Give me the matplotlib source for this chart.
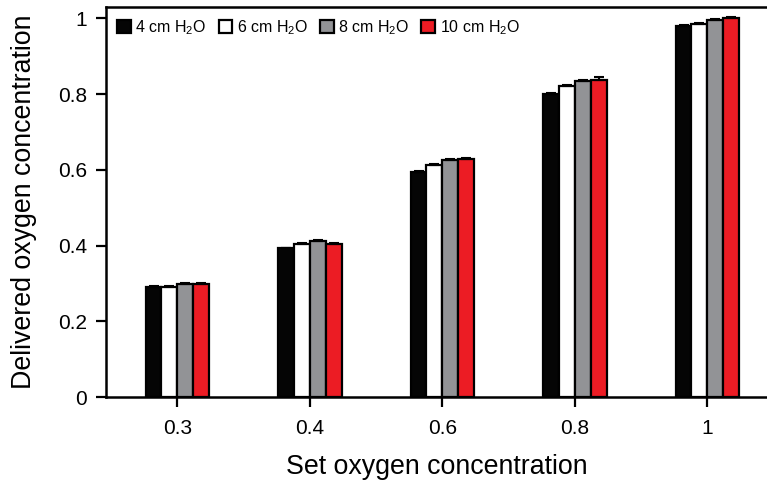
import numpy as np
import matplotlib
matplotlib.use("Agg")
import matplotlib.pyplot as plt

plt.rcParams['font.family'] = ['Liberation Sans', 'DejaVu Sans']
plt.rcParams['mathtext.fontset'] = 'custom'
plt.rcParams['mathtext.rm'] = 'Liberation Sans'

# datos
categorias = ['0.3', '0.4', '0.6', '0.8', '1']
series = ['4 cm H$_2$O', '6 cm H$_2$O', '8 cm H$_2$O', '10 cm H$_2$O']
colores = ['#050505', '#ffffff', '#929396', '#ec1c24']

valores = [
    [0.291, 0.393, 0.595, 0.800, 0.980],
    [0.290, 0.405, 0.613, 0.822, 0.985],
    [0.298, 0.412, 0.625, 0.835, 0.995],
    [0.298, 0.405, 0.630, 0.838, 1.000],
]
errores = [
    [0.002, 0.002, 0.002, 0.002, 0.002],
    [0.003, 0.002, 0.002, 0.002, 0.002],
    [0.003, 0.003, 0.003, 0.002, 0.003],
    [0.003, 0.002, 0.002, 0.008, 0.003],
]

fig = plt.figure(figsize=(7.67, 4.82), dpi=100)
ax = fig.add_axes([0.138, 0.176, 0.862, 0.8095])

x = np.arange(len(categorias))
ancho = 0.12
for i in range(len(series)):
    pos = x + (i - 1.5) * ancho
    ax.bar(pos, valores[i], ancho, color=colores[i], edgecolor='black',
           linewidth=1.6, label=series[i], zorder=2)
    ax.errorbar(pos, valores[i], yerr=[np.zeros(len(x)), errores[i]], fmt='none',
                ecolor='black', elinewidth=1.5, capsize=3.5, capthick=1.5, zorder=3)

ax.set_xlim(-0.54, 4.45)
ax.set_ylim(0, 1.03)
ax.set_xticks(x)
ax.set_xticklabels(categorias)
ax.set_yticks([0, 0.2, 0.4, 0.6, 0.8, 1])
ax.set_yticklabels(['0', '0.2', '0.4', '0.6', '0.8', '1'])
ax.tick_params(axis='both', labelsize=15, width=1.6, length=7.5, direction='out')
ax.tick_params(axis='y', pad=6)
ax.tick_params(axis='x', pad=8)
for lado in ['left', 'bottom', 'top']:
    ax.spines[lado].set_linewidth(1.8)
ax.spines['right'].set_visible(False)

ax.set_xlabel('Set oxygen concentration', fontsize=19.3, labelpad=12)
ax.set_ylabel('Delivered oxygen concentration', fontsize=19.3, labelpad=15)

ax.legend(loc='upper left', ncol=4, frameon=False, fontsize=11.5,
          handlelength=0.85, handleheight=0.85, handletextpad=0.3,
          columnspacing=0.75, bbox_to_anchor=(0.0, 1.0), borderaxespad=0.3)

fig.savefig('out.png', dpi=100)
